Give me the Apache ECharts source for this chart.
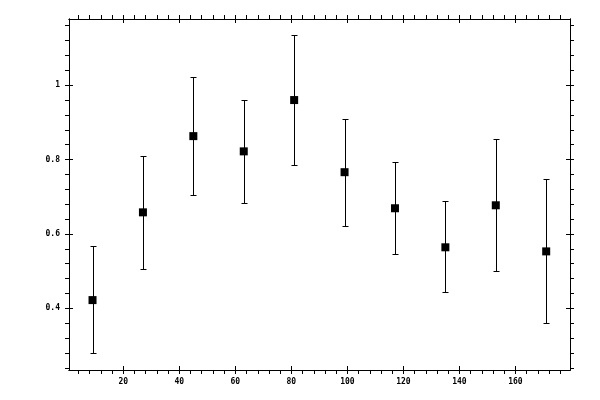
<!DOCTYPE html>
<html>
<head>
<meta charset="utf-8">
<script src="https://cdn.jsdelivr.net/npm/echarts@6/dist/echarts.min.js"></script>
<style>
  html, body { margin: 0; background: #fff; }
  #chart-container { width: 600px; height: 400px; }
</style>
</head>
<body>
<div id="chart-container"></div>
<script>
// data
const xVals = [9, 27, 45, 63, 81, 99, 117, 135, 153, 171];
const yVals = [0.422, 0.658, 0.863, 0.822, 0.960, 0.766, 0.669, 0.564, 0.677, 0.553];
const yLow  = [0.280, 0.505, 0.704, 0.684, 0.785, 0.621, 0.545, 0.443, 0.500, 0.360];
const yHigh = [0.567, 0.809, 1.023, 0.960, 1.134, 0.910, 0.793, 0.688, 0.855, 0.747];

// tick positions
const xMajor = [20, 40, 60, 80, 100, 120, 140, 160];
const xMinor = [4, 8, 12, 16, 20, 24, 28, 32, 36, 40, 44, 48, 52, 56, 60, 64, 68, 72, 76, 80,
  84, 88, 92, 96, 100, 104, 108, 112, 116, 120, 124, 128, 132, 136, 140, 144, 148, 152, 156,
  160, 164, 168, 172, 176];
const yMajor = [0.4, 0.6, 0.8, 1];
const yMinor = [0.24, 0.28, 0.32, 0.36, 0.4, 0.44, 0.48, 0.52, 0.56, 0.6, 0.64, 0.68, 0.72,
  0.76, 0.8, 0.84, 0.88, 0.92, 0.96, 1, 1.04, 1.08, 1.12, 1.16];

const X_MIN = 0.6, X_MAX = 179.5;
const Y_MIN = 0.234, Y_MAX = 1.178;

let myChart = echarts.init(document.getElementById('chart-container'), null, { renderer: 'canvas' });

const labelFont = { color: '#000', fontFamily: 'DejaVu Sans Mono', fontSize: 8, fontWeight: 'bold' };

// one axis layer: line + ticks (inside or outside) + optional labels
function capa(dim, pos, ticks, inside, labels) {
  const ax = {
    type: 'value',
    position: pos,
    min: dim === 'x' ? X_MIN : Y_MIN,
    max: dim === 'x' ? X_MAX : Y_MAX,
    splitLine: { show: false },
    axisLine: { show: true, onZero: false, lineStyle: { color: '#000', width: 1 } },
    axisTick: { show: true, inside: inside, length: 4, customValues: ticks,
      lineStyle: { color: '#000', width: 1 } },
    axisLabel: { show: false }
  };
  if (labels) {
    ax.axisLabel = Object.assign({ show: true, customValues: labels,
      margin: dim === 'x' ? 8 : 9 }, labelFont);
  }
  return ax;
}

const errData = xVals.map((x, i) => [x, yLow[i], yHigh[i]]);
const ptData = xVals.map((x, i) => [x, yVals[i]]);

const opciones = {
  animation: false,
  backgroundColor: '#fff',
  grid: { left: 69, right: 30, top: 19, bottom: 30 },
  xAxis: [
    capa('x', 'bottom', xMinor, false, xMajor),
    capa('x', 'bottom', xMajor, true, null),
    capa('x', 'top', xMinor, false, null),
    capa('x', 'top', xMajor, true, null)
  ],
  yAxis: [
    capa('y', 'left', yMinor, false, yMajor),
    capa('y', 'left', yMajor, true, null),
    capa('y', 'right', yMinor, false, null),
    capa('y', 'right', yMajor, true, null)
  ],
  series: [
    {
      type: 'custom',
      xAxisIndex: 0,
      yAxisIndex: 0,
      data: errData,
      encode: { x: 0, y: [1, 2] },
      renderItem: function (params, api) {
        const x = api.value(0);
        const lo = api.coord([x, api.value(1)]);
        const hi = api.coord([x, api.value(2)]);
        const cx = Math.round(lo[0]) + 0.5;
        const yl = Math.round(lo[1]) + 0.5;
        const yh = Math.round(hi[1]) + 0.5;
        const w = 3;
        const st = { stroke: '#000', lineWidth: 1 };
        return {
          type: 'group',
          children: [
            { type: 'line', shape: { x1: cx, y1: yl, x2: cx, y2: yh }, style: st },
            { type: 'line', shape: { x1: cx - w, y1: yl, x2: cx + w, y2: yl }, style: st },
            { type: 'line', shape: { x1: cx - w, y1: yh, x2: cx + w, y2: yh }, style: st }
          ]
        };
      }
    },
    {
      type: 'scatter',
      xAxisIndex: 0,
      yAxisIndex: 0,
      data: ptData,
      symbol: 'rect',
      symbolSize: 8,
      itemStyle: { color: '#000', opacity: 1 }
    }
  ]
};

myChart.setOption(opciones);
</script>
</body>
</html>
